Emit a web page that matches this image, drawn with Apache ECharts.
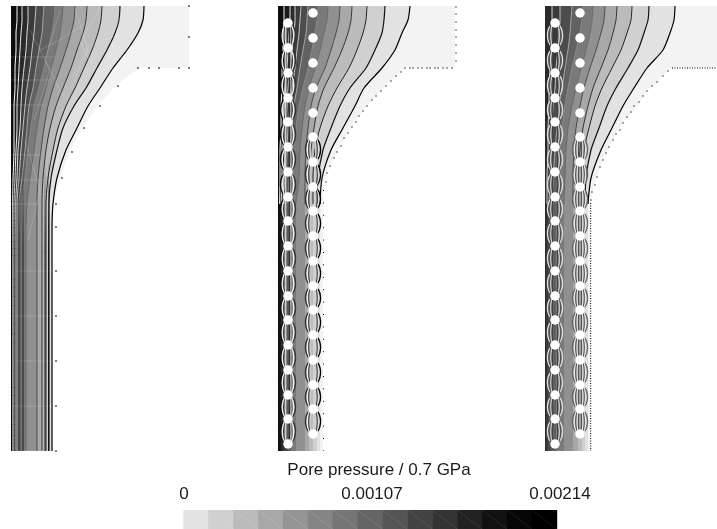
<!DOCTYPE html>
<html><head><meta charset="utf-8">
<style>html,body{margin:0;padding:0;background:#fff;overflow:hidden}#c{width:717px;height:529px}</style>
<script src="https://cdn.jsdelivr.net/npm/echarts@6/dist/echarts.min.js"></script>
</head><body><div id="c"></div>
<script>
// ---------- legend ----------
const legendTitle = 'Pore pressure / 0.7 GPa';
const tickLabels = ['0', '0.00107', '0.00214'];
const legendShades = ['#e3e3e3','#d0d0d0','#bbbbbb','#a8a8a8','#959595','#858585','#757575','#656565','#555555','#434343','#333333','#222222','#111111','#060606','#000000'];

// ---------- shared sampling heights of the contours ----------
const contourY = [6,20,33,50,68,88,106,128,150,178,204,230,451];
const bandShades = ['#f3f3f3','#e2e2e2','#d0d0d0','#bbbbbb','#a8a8a8','#909090','#7a7a7a','#626262','#4c4c4c','#3a3a3a','#2a2a2a','#1a1a1a','#0e0e0e','#050505'];
const lineShades = ['#000000','#111111','#222222','#333333','#4a4a4a','#6a6a6a','#8a8a8a','#a5a5a5','#c5c5c5','#dddddd','#eeeeee','#ffffff'];

// ---------- panel 1 (no holes) ----------
const p1Region = [[11,6],[189,6],[189,68],[139,68],[115,86],[98,106],[82,128],[70,152],[60,178],[54,204],[53,230],[53,451],[11,451]];
const p1Contours = [
 [144,143,138,127,113,100,88,77,66,57,53,52,52],
 [120,119,115,107,97,86,74,63,57,51,49,49,49],
 [102,101,98,92,84,75,66,58,53,48,46,46,46],
 [87,86,83,77,71,63,56,50,46,43,42,42,42],
 [75,74,71,66,60,53,48,44,41,38,37,37,37],
 [63,62,60,56,51,46,41,37,34,30,27,26,26],
 [55,54,52,48,44,39,34,31,28,25,22,22,22],
 [44,43,42,39,36,33,29,27,25,22,19,19,19],
 [36,35,34,32,30,27,25,23,21,19,17,17,17],
 [28,28,27,26,24,22,21,20,18,17,15.5,15.5,15.5],
 [22,22,21,20,19,18,17,17,16,15,14,14,14],
 [17,17,16,16,15,15,14,14,14,13,12.5,12.5,12.5]
];
// dark stripes of the compressed contours in the straight lower part
const p1StripeDark = [12,15,19,23,45,48.5];
const p1StripeSpan = [160,451];
const p1Dots = [[189,6],[189,37],[138,68],[149,68],[159,68],[179,68],[189,68],[118,86],[100,106],[84,128],[72,152],[62,178],[56,204],[56,227],[56,271],[56,316],[56,361],[56,406],[56,451]];
const p1Mesh = [
 [[11,57],[55,57]],[[11,80],[50,80]],[[11,105],[45,105]],[[11,155],[42,155]],[[11,180],[40,180]],[[11,204],[38,204]],
 [[11,271],[52,271]],[[11,316],[52,316]],[[11,361],[52,361]],[[11,406],[52,406]],[[11,451],[52,451]],
 [[75,8],[88,50],[70,90]],[[100,8],[80,42],[95,70]],[[122,12],[110,42],[125,62]],[[60,10],[45,60],[62,95]],[[30,30],[50,70],[34,120]],
 [[88,22],[60,40],[40,50]],[[118,35],[90,45],[72,78]],[[25,140],[40,190],[28,240]]
];

// ---------- panel 2 (holes, sparse boundary nodes) ----------
const p2Region = [[278,6],[455,6],[455,68],[405,68],[396,76],[385,86],[372,100],[359,116],[348,133],[337,152],[327,173],[323,190],[323,203],[323,451],[278,451]];
const p2Contours = [
 [410,408,402,395,382,364,355,343,331,322,320,320,320],
 [385,384,382,375,366,350,340,331,323,318,317,317,317],
 [367,366,363,357,349,337,328,320,315,313,313,313,313],
 [352,351,348,342,334,324,318,314,311,310,309,309,309],
 [340,339,336,331,325,316,311,308,306,305,305,305,305],
 [328,327,324,320,315,309,305,302,300,299,296,296,296],
 [318,317,315,312,308,303,299,296,294,293,291,291,291],
 [308,307,306,303,300,297,294,292,290,289,288,288,288],
 [301,300,299,297,295,292,290,288,287,286,285,285,285],
 [295,295,294,292,290,288,287,286,285,284,283,283,283],
 [290,290,289,288,287,285,284,283,282,282,281,281,281],
 [284,284,283,283,282,282,281,281,280,280,279.5,279.5,279.5]
];
const p2Dots = [[452,68],[447,68],[443,68],[438,68],[435,68],[430,68],[427,68],[422,68],[418,68],[413,68],[410,68],[405,68],[401,72],[396,76],[391,81],[386,86],[381,91],[376,96],[372,100],[367,106],[363,111],[359,116],[356,122],[352,127],[348,133],[344,138],[341,146],[337,152],[334,158],[330,166],[327,173],[326,182],[456,7],[456,14],[456,22],[456,30],[456,37],[456,45],[456,53],[456,61]];
const p2HolesLeft = [[288,23],[288,48],[288,73],[288,98],[288,122],[288,147],[288,172],[288,197],[288,221],[288,246],[288,271],[288,296],[288,320],[288,345],[288,370],[288,395],[288,419],[288,444]];
const p2HolesRight = [[313,13],[313,38],[313,63],[313,88],[313,113],[313,137],[313,162],[313,187],[313,211],[313,236],[313,261],[313,286],[313,310],[313,335],[313,360],[313,385],[313,409],[313,434]];
const p2Edge = [[323.5,190],[323.5,451]];

// ---------- panel 3 (holes, dense boundary nodes) ----------
const p3Region = [[545,6],[717,6],[717,68],[672,68],[668,71],[663,76],[657,82],[652,86],[647,91],[637,106],[623,123],[616,134],[609,147],[603,160],[597,177],[592,191],[591,203],[591,451],[545,451]];
const p3Contours = [
 [675,674,670,663,647,634,623,612,601,591,588,588,588],
 [649,648,644,638,628,616,607,599,591,586,585,585,585],
 [632,631,627,621,612,602,595,589,584,582,582,582,582],
 [617,616,613,608,601,593,588,583,580,578,578,578,578],
 [605,604,601,596,590,584,580,576,574,573,573,573,573],
 [593,592,590,586,581,576,572,568,566,565,564,564,564],
 [583,582,580,576,572,568,565,562,560,558,557,556,556],
 [572,571,570,568,565,562,559,557,555,553,552,551,551],
 [560,560,559,558,556,555,553,552,551,550,549,548,548],
 [552,552,552,551,550,549,549,548,548,547,547,546,546]
];
const p3Dots = [[668,71],[663,76],[657,82],[652,86],[647,91],[643,96],[639,102],[634,106],[631,112],[627,117],[623,123],[620,130],[616,134],[613,140],[609,147],[606,153],[603,160],[600,167],[597,177],[595,185],[592,192],[591,200]];
const p3HolesLeft = [[555,23],[555,48],[555,73],[555,98],[555,122],[555,147],[555,172],[555,197],[555,221],[555,246],[555,271],[555,296],[555,320],[555,345],[555,370],[555,395],[555,419],[555,444]];
const p3HolesRight = [[580,13],[580,38],[580,63],[580,88],[580,113],[580,137],[580,162],[580,187],[580,211],[580,236],[580,261],[580,286],[580,310],[580,335],[580,360],[580,385],[580,409],[580,434]];
const p3EdgeV = [[590.7,203],[590.7,451]];
const p3EdgeH = [[672,68],[717,68]];

// bulge of the contour arcs between two neighbouring holes: [at the hole, half-way]
const arcOffsets = [[1,1.5],[2,2.8],[2.8,4.2],[3.8,5.8],[4.8,7.5]];

// ---------- option assembly ----------
const grids = [
 {left:11,top:6,width:178,height:446},
 {left:278,top:6,width:179,height:446},
 {left:545,top:6,width:172,height:446},
 {left:183.3,top:510,width:373.4,height:19},
 {left:184,top:510,width:376,height:19}
];
const xR = [[11,189],[278,457],[545,717]];
const xAxes = xR.map((r,i)=>({gridIndex:i,type:'value',min:r[0],max:r[1],show:false}));
const yAxes = xR.map((r,i)=>({gridIndex:i,type:'value',min:6,max:452,inverse:true,show:false}));
xAxes.push({gridIndex:3,type:'value',min:0,max:legendShades.length,show:false});
yAxes.push({gridIndex:3,type:'value',min:0,max:1,inverse:true,show:false});
xAxes.push({gridIndex:4,type:'category',data:tickLabels,boundaryGap:false,position:'top',
  axisLine:{show:false},axisTick:{show:false},splitLine:{show:false},
  axisLabel:{show:true,interval:0,margin:7,fontSize:17,color:'#1a1a1a',fontFamily:'Liberation Sans',hideOverlap:false}});
yAxes.push({gridIndex:4,type:'value',show:false});

const series = [];
const ax = i => ({xAxisIndex:i,yAxisIndex:i});
function poly(i,pts,color,z){
  series.push({type:'custom',...ax(i),z,silent:true,clip:true,data:[[pts[0][0],pts[0][1]]],
    renderItem:(p,api)=>({type:'polygon',shape:{points:pts.map(q=>api.coord(q))},style:{fill:color}})});
}
function line(i,pts,color,z,w,extra){
  series.push(Object.assign({type:'line',...ax(i),z,silent:true,showSymbol:false,symbol:'none',clip:false,
    data:pts,lineStyle:{color,width:w},connectNulls:false},extra||{}));
}
function dots(i,pts,size){
  series.push({type:'scatter',...ax(i),z:20,silent:true,clip:false,symbol:'rect',symbolSize:size,data:pts,itemStyle:{color:'#000',opacity:1}});
}
function holes(i,pts){
  series.push({type:'scatter',...ax(i),z:15,silent:true,clip:false,symbol:'circle',symbolSize:9.5,data:pts,itemStyle:{color:'#fff',opacity:1}});
}
function panel(i,region,contours,leftX,lineEnd){
  poly(i,region,bandShades[0],2);
  contours.forEach((c,k)=>{
    const pts=[[leftX,6]].concat(c.map((x,j)=>[x,contourY[j]])).concat([[leftX,451]]);
    poly(i,pts,bandShades[k+1],3+k*0.01);
  });
  contours.forEach((c,k)=>{
    const pts=c.map((x,j)=>[x,contourY[j]]).slice(0,lineEnd);
    line(i,pts,lineShades[k],8,k<2?1.2:1,{smooth:0.25});
  });
}
function arcs(i,column,from,side,shade,widx){
  const d=[];
  for(let r=from;r<column.length-1;r++){
    const a=column[r],b=column[r+1];
    const [e,m]=arcOffsets[widx];
    d.push([a[0]+side*e,a[1]+3],[a[0]+side*m,(a[1]+b[1])/2],[a[0]+side*e,b[1]-3],[NaN,NaN]);
  }
  line(i,d,shade,9,1.4,{smooth:0.6});
}

// panel 1
panel(0,p1Region,p1Contours,11,13);
p1Mesh.forEach(m=>line(0,m,'rgba(255,255,255,0.16)',9,1));
const fade = new echarts.graphic.LinearGradient(0,0,0,1,[{offset:0,color:'rgba(10,10,10,0)'},{offset:0.3,color:'rgba(10,10,10,0.9)'},{offset:1,color:'rgba(10,10,10,0.9)'}]);
p1StripeDark.forEach(x=>line(0,p1StripeSpan.map(y=>[x,y]),fade,9,1));
dots(0,p1Dots,[2,1.2]);

// panel 2
panel(1,p2Region,p2Contours,278,11);
[[-1,'#ddd',1],[1,'#aaa',1],[-1,'#111',4],[1,'#333',4],[-1,'#eee',3],[1,'#eee',3],[-1,'#888',0],[1,'#333',0]].forEach(a=>{
  arcs(1,p2HolesLeft,0,a[0],a[1],a[2]);
});
[[-1,'#333',4],[1,'#000',4],[-1,'#eee',3],[1,'#ddd',3],[-1,'#444',2],[1,'#444',2],[-1,'#ccc',1],[1,'#ccc',1]].forEach(a=>{
  arcs(1,p2HolesRight,5,a[0],a[1],a[2]);
});
holes(1,p2HolesLeft);holes(1,p2HolesRight);
dots(1,p2Dots,[1.3,1.2]);
line(1,p2Edge,'#000',20,1,{lineStyle:{color:'#000',width:1,type:[1,11.4]}});

// panel 3
panel(2,p3Region,p3Contours,545,11);
[[-1,'#ddd',4],[1,'#ddd',4],[-1,'#555',3],[1,'#555',3],[-1,'#ddd',2],[1,'#ddd',2],[-1,'#444',1],[1,'#444',1]].forEach(a=>{
  arcs(2,p3HolesLeft,0,a[0],a[1],a[2]);
});
[[-1,'#666',4],[1,'#666',4],[-1,'#e5e5e5',3],[1,'#e5e5e5',3],[-1,'#555',2],[1,'#555',2],[-1,'#e5e5e5',1],[1,'#e5e5e5',1],[-1,'#555',0],[1,'#555',0]].forEach(a=>{
  arcs(2,p3HolesRight,5,a[0],a[1],a[2]);
});
holes(2,p3HolesLeft);holes(2,p3HolesRight);
dots(2,p3Dots,[1.3,1.2]);
line(2,p3EdgeV,'#000',20,1,{lineStyle:{color:'#000',width:1,type:[1,1.5]}});
line(2,p3EdgeH,'#000',20,1,{lineStyle:{color:'#000',width:1,type:[1,1.5]}});

// legend cells
series.push({type:'custom',...ax(3),z:5,silent:true,data:legendShades.map((c,i)=>[i]),
  renderItem:(p,api)=>{
    const k=api.value(0),a=api.coord([k,0]),b=api.coord([k+1,1]);
    return {type:'group',children:[
      {type:'rect',shape:{x:a[0],y:a[1],width:b[0]-a[0]+0.5,height:b[1]-a[1]},style:{fill:legendShades[k]}},
      {type:'line',shape:{x1:a[0],y1:a[1],x2:b[0],y2:b[1]},style:{stroke:k<8?'rgba(255,255,255,0.2)':'rgba(255,255,255,0.14)',lineWidth:0.7}}
    ]};
  }});
series.push({type:'line',...ax(4),data:[],silent:true});

const chart = echarts.init(document.getElementById('c'),null,{renderer:'canvas',width:717,height:529});
chart.setOption({
  animation:false,backgroundColor:'#fff',
  title:{text:legendTitle,left:374,top:457,textAlign:'center',textStyle:{fontSize:17,fontWeight:'normal',color:'#1a1a1a',fontFamily:'Liberation Sans'}},
  grid:grids,xAxis:xAxes,yAxis:yAxes,series
});
</script></body></html>
